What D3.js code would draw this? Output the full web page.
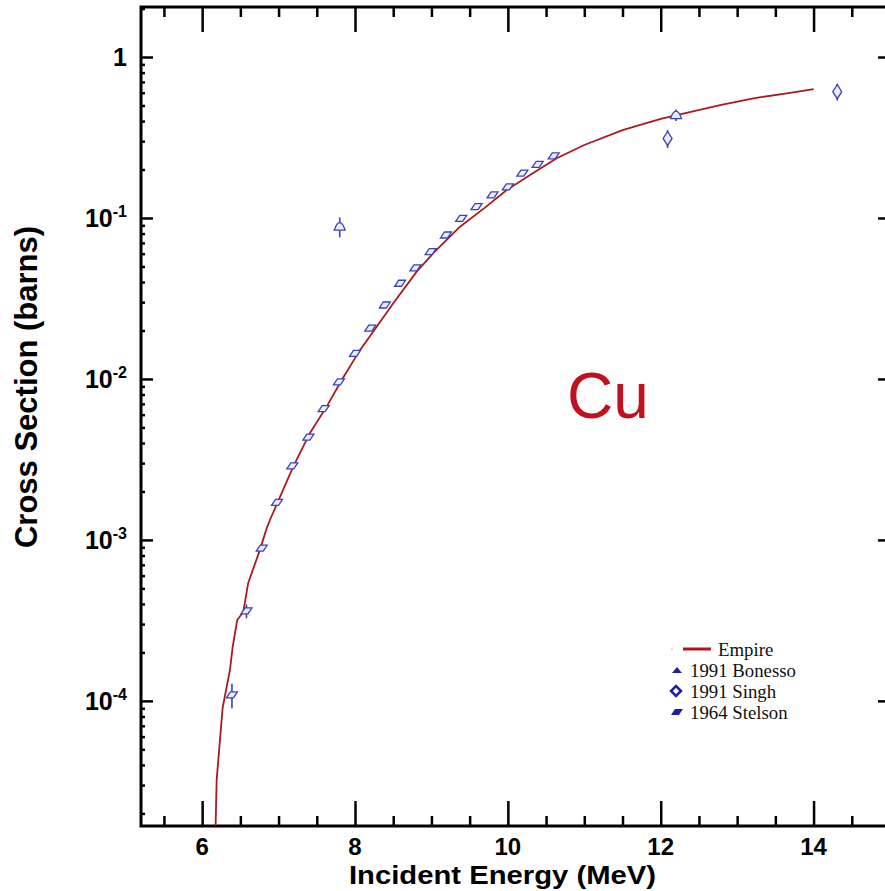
<!DOCTYPE html>
<html>
<head>
<meta charset="utf-8">
<script src="https://cdn.jsdelivr.net/npm/d3@7"></script>
<style>
  body { margin: 0; background: #fff; }
  svg { display: block; }
</style>
</head>
<body>
<svg id="chart" width="885" height="891"></svg>
<script>
// Empire calculation (energy MeV, cross section barns)
const empireE = [6.165, 6.19, 6.268, 6.364, 6.399, 6.459, 6.538, 6.603, 6.756, 6.844, 6.887,
  7.192, 7.411, 7.629, 7.826, 8.065, 8.284, 8.501, 8.807, 9.024, 9.374, 9.7, 9.985, 10.3,
  10.639, 11.0, 11.5, 12.0, 12.21, 12.777, 13.212, 13.65, 14.0]
const empireXS = [1.0e-5, 3.23e-5, 9.06e-5, 1.56e-4, 2.16e-4, 3.18e-4, 3.57e-4, 5.41e-4, 8.67e-4,
  1.18e-3, 1.33e-3, 2.85e-3, 4.62e-3, 6.73e-3, 9.86e-3, 1.51e-2, 2.11e-2, 2.95e-2, 4.64e-2,
  6.04e-2, 8.83e-2, 0.116, 0.149, 0.186, 0.235, 0.284, 0.351, 0.413, 0.436, 0.503, 0.554,
  0.595, 0.632]

// 1964 Stelson
const stelsonE = [6.39, 6.58, 6.78, 6.98, 7.18, 7.39, 7.59, 7.79, 8.0, 8.2, 8.39, 8.59, 8.79,
  8.99, 9.19, 9.39, 9.59, 9.8, 10.0, 10.19, 10.39, 10.6]
const stelsonXS = [1.09e-4, 3.62e-4, 8.88e-4, 1.71e-3, 2.88e-3, 4.35e-3, 6.54e-3, 9.58e-3,
  1.44e-2, 2.07e-2, 2.88e-2, 3.93e-2, 4.9e-2, 6.18e-2, 7.84e-2, 9.93e-2, 0.1175, 0.139,
  0.156, 0.19, 0.215, 0.243]
const stelsonErr = [1.9e-5, 3.6e-5, 0, 0, 0, 0, 0, 0, 0, 0, 0, 0, 0, 0, 0, 0, 0, 0, 0, 0, 0, 0]

// 1991 Bonesso
const bonessoE = [7.8, 12.2]
const bonessoXS = [0.0883, 0.436]
const bonessoErr = [0.0125, 0.036]

// 1991 Singh
const singhE = [12.09, 14.31]
const singhXS = [0.312, 0.609]
const singhErr = [0.04, 0.073]

const xMajor = [6, 8, 10, 12, 14]
const xMinor = [5.5, 6.5, 7, 7.5, 8.5, 9, 9.5, 10.5, 11, 11.5, 12.5, 13, 13.5, 14.5]
const yDecades = [1, 1e-1, 1e-2, 1e-3, 1e-4]
const yExponents = ['', '-1', '-2', '-3', '-4']

const legendNames = ['Empire', '1991 Bonesso', '1991 Singh', '1964 Stelson']

const svg = d3.select('#chart')
const pLeft = 141, pRight = 890, pTop = 7, pBottom = 826

const x = d3.scaleLinear().domain([5.2, 15]).range([pLeft, pRight])
const y = d3.scaleLog().domain([1.67e-5, 2.045]).range([pBottom, pTop])

const yMinor = []
for (let d = -5; d <= 0; d++) {
  for (let k = 2; k <= 9; k++) {
    const v = k * Math.pow(10, d)
    if (v > y.domain()[0] && v < y.domain()[1]) yMinor.push(v)
  }
}

svg.append('clipPath').attr('id', 'clip')
  .append('rect').attr('x', pLeft).attr('y', pTop)
  .attr('width', pRight - pLeft).attr('height', pBottom - pTop)

// ticks (all pointing inward)
const tickStyle = g => {
  g.select('.domain').remove()
  g.selectAll('line').attr('stroke', '#000').attr('stroke-width', 2.5)
  g.selectAll('text').remove()
}
svg.append('g').attr('transform', `translate(0,${pBottom})`)
  .call(d3.axisBottom(x).tickValues(xMajor).tickSize(-25)).call(tickStyle)
svg.append('g').attr('transform', `translate(0,${pBottom})`)
  .call(d3.axisBottom(x).tickValues(xMinor).tickSize(-10)).call(tickStyle)
svg.append('g').attr('transform', `translate(0,${pTop})`)
  .call(d3.axisTop(x).tickValues(xMajor).tickSize(-25)).call(tickStyle)
svg.append('g').attr('transform', `translate(0,${pTop})`)
  .call(d3.axisTop(x).tickValues(xMinor).tickSize(-10)).call(tickStyle)
svg.append('g').attr('transform', `translate(${pLeft},0)`)
  .call(d3.axisLeft(y).tickValues(yDecades).tickSize(-12)).call(tickStyle)
svg.append('g').attr('transform', `translate(${pLeft},0)`)
  .call(d3.axisLeft(y).tickValues(yMinor).tickSize(-4)).call(tickStyle)
svg.append('g').attr('transform', `translate(${pRight},0)`)
  .call(d3.axisRight(y).tickValues(yDecades).tickSize(-12)).call(tickStyle)
svg.append('g').attr('transform', `translate(${pRight},0)`)
  .call(d3.axisRight(y).tickValues(yMinor).tickSize(-4)).call(tickStyle)

// frame
svg.append('rect')
  .attr('x', pLeft).attr('y', pTop)
  .attr('width', pRight - pLeft).attr('height', pBottom - pTop)
  .attr('fill', 'none').attr('stroke', '#000').attr('stroke-width', 3)

// tick labels
const boldFont = "'Liberation Sans', Arial, Helvetica, sans-serif"
svg.append('g').selectAll('text').data(xMajor).enter().append('text')
  .attr('x', d => x(d)).attr('y', 855)
  .attr('text-anchor', 'middle')
  .style('font-family', boldFont).style('font-weight', 'bold').style('font-size', '24px')
  .text(d => d)

const yLab = svg.append('g').selectAll('text').data(yDecades).enter().append('text')
  .attr('x', 127).attr('y', d => y(d) + 9)
  .attr('text-anchor', 'end')
  .style('font-family', boldFont).style('font-weight', 'bold').style('font-size', '25px')
yLab.each(function (d, i) {
  const t = d3.select(this)
  if (yExponents[i] === '') {
    t.text('1')
  } else {
    t.append('tspan').text('10')
    t.append('tspan').attr('dy', -10).style('font-size', '16px').text(yExponents[i])
  }
})

// axis titles
svg.append('text')
  .attr('x', 349).attr('y', 884)
  .attr('textLength', 307).attr('lengthAdjust', 'spacingAndGlyphs')
  .style('font-family', boldFont).style('font-weight', 'bold').style('font-size', '26px')
  .text('Incident Energy (MeV)')
svg.append('text')
  .attr('transform', 'translate(37,387) rotate(-90)')
  .attr('text-anchor', 'middle')
  .style('font-family', boldFont).style('font-weight', 'bold').style('font-size', '31px')
  .text('Cross Section (barns)')

// Cu label
svg.append('text')
  .attr('x', 567).attr('y', 418)
  .style('font-family', "'Liberation Sans', Arial, sans-serif").style('font-size', '64px')
  .attr('fill', '#c0111f')
  .text('Cu')

// data
const plot = svg.append('g').attr('clip-path', 'url(#clip)')
const empire = empireE.map((e, i) => ({ e: e, v: empireXS[i] }))
plot.append('path')
  .datum(empire)
  .attr('fill', 'none').attr('stroke', '#a81a1e').attr('stroke-width', 1.8)
  .attr('d', d3.line().x(d => x(d.e)).y(d => y(d.v)))

const blue = '#3b40bd'
const shapes = {
  stelson: 'M-5.5,3L-1.5,-3L5.5,-3L1.5,3Z',
  bonesso: 'M-5.5,3.5C-4,-1 -2,-4 0,-4C2,-4 4,-1 5.5,3.5Z',
  singh: 'M0,-7L4.5,0L0,7L-4.5,0Z'
}

function drawSet(E, V, Err, shape) {
  const pts = E.map((e, i) => ({ e: e, v: V[i], err: Err[i] }))
  const g = plot.append('g')
  g.selectAll('line').data(pts.filter(d => d.err > 0)).enter().append('line')
    .attr('x1', d => x(d.e)).attr('x2', d => x(d.e))
    .attr('y1', d => y(d.v - d.err)).attr('y2', d => y(d.v + d.err))
    .attr('stroke', blue).attr('stroke-width', 1.6)
  g.selectAll('path').data(pts).enter().append('path')
    .attr('transform', d => `translate(${x(d.e)},${y(d.v)})`)
    .attr('d', shape)
    .attr('fill', '#eceefc').attr('stroke', blue).attr('stroke-width', 1.3)
}
drawSet(stelsonE, stelsonXS, stelsonErr, shapes.stelson)
drawSet(bonessoE, bonessoXS, bonessoErr, shapes.bonesso)
drawSet(singhE, singhXS, singhErr, shapes.singh)

// legend
const legend = svg.append('g')
const serif = "'Liberation Serif', 'Times New Roman', serif"
const rowY = [649, 670, 691, 712]
legend.append('circle').attr('cx', 672).attr('cy', rowY[0]).attr('r', 1).attr('fill', '#f2c4c4')
legend.append('line').attr('x1', 683).attr('x2', 711).attr('y1', rowY[0]).attr('y2', rowY[0])
  .attr('stroke', '#b3141b').attr('stroke-width', 3)
const navy = '#1c1fa3'
legend.append('path').attr('transform', `translate(677,${rowY[1]})`)
  .attr('d', 'M-5,3L0,-3L5,3Z').attr('fill', navy)
legend.append('path').attr('transform', `translate(676,${rowY[2]})`)
  .attr('d', 'M0,-5L5,0L0,5L-5,0Z').attr('fill', 'none').attr('stroke', navy).attr('stroke-width', 2.5)
legend.append('path').attr('transform', `translate(677,${rowY[3]})`)
  .attr('d', 'M-6,3L-2,-3L6,-3L2,3Z').attr('fill', navy)
legend.selectAll('text').data(legendNames).enter().append('text')
  .attr('x', (d, i) => i === 0 ? 718 : 690)
  .attr('y', (d, i) => rowY[i] + 6.5)
  .style('font-family', serif).style('font-size', '18.8px').attr('fill', '#111')
  .text(d => d)
</script>
</body>
</html>
